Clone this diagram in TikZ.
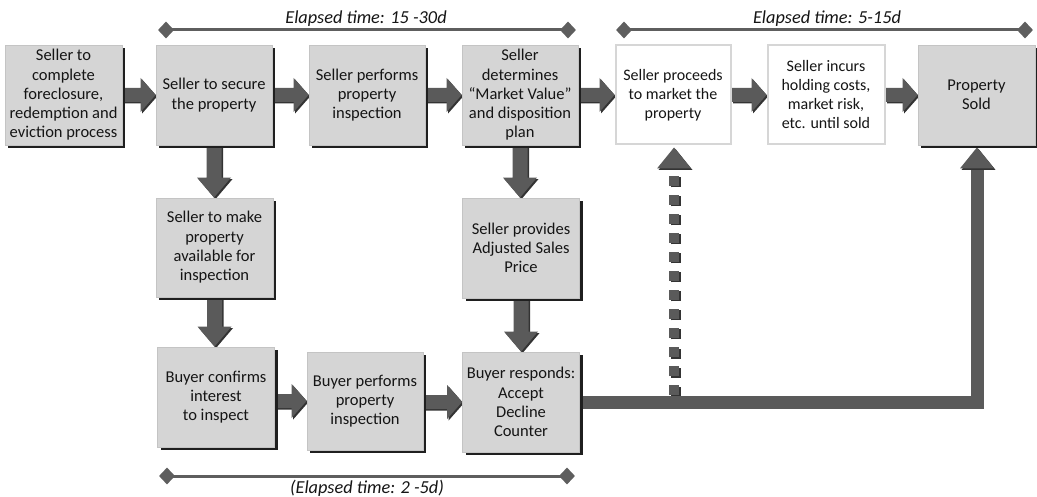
\documentclass[tikz,border=0pt]{standalone}
\usepackage{fontspec}
\setmainfont{Carlito}
\usetikzlibrary{shapes.geometric,shadows,calc}
\pgfdeclarelayer{background}
\pgfsetlayers{background,main}
\definecolor{boxgray}{HTML}{D5D5D5}
\definecolor{boxedge}{HTML}{C4C4C4}
\definecolor{wedge}{HTML}{D6D6D6}
\definecolor{arrowgray}{HTML}{5A5A5A}
\definecolor{arrowdark}{HTML}{333333}
\definecolor{linegray}{HTML}{5E5E5E}
\definecolor{txt}{HTML}{151515}
\newcommand{\arrdx}{0pt}
\newcommand{\arrdy}{0pt}
\newcommand{\HApath}[3]{%
  \fill[#3] let \p1=(#1), \p2=(#2) in
  ({\x1+\arrdx},{\y2+7pt+\arrdy}) -- ({\x2-15pt+\arrdx},{\y2+7pt+\arrdy}) --
  ({\x2-15pt+\arrdx},{\y2+17pt+\arrdy}) -- ({\x2+\arrdx},{\y2+\arrdy}) --
  ({\x2-15pt+\arrdx},{\y2-17pt+\arrdy}) -- ({\x2-15pt+\arrdx},{\y2-7pt+\arrdy}) --
  ({\x1+\arrdx},{\y2-7pt+\arrdy}) -- cycle;}
\newcommand{\VApath}[3]{%
  \fill[#3] let \p1=(#1), \p2=(#2) in
  ({\x1-7.5pt+\arrdx},{\y1+\arrdy}) -- ({\x1-7.5pt+\arrdx},{\y2+20pt+\arrdy}) --
  ({\x1-17pt+\arrdx},{\y2+20pt+\arrdy}) -- ({\x1+\arrdx},{\y2+\arrdy}) --
  ({\x1+17pt+\arrdx},{\y2+20pt+\arrdy}) -- ({\x1+7.5pt+\arrdx},{\y2+20pt+\arrdy}) --
  ({\x1+7.5pt+\arrdx},{\y1+\arrdy}) -- cycle;}
\newcommand{\HArrow}[2]{%
  \renewcommand{\arrdx}{1.5pt}\renewcommand{\arrdy}{-1.5pt}\HApath{#1}{#2}{arrowdark}%
  \renewcommand{\arrdx}{0pt}\renewcommand{\arrdy}{0pt}\HApath{#1}{#2}{arrowgray}}
\newcommand{\VArrow}[2]{%
  \renewcommand{\arrdx}{1.5pt}\renewcommand{\arrdy}{-1.5pt}\VApath{#1}{#2}{arrowdark}%
  \renewcommand{\arrdx}{0pt}\renewcommand{\arrdy}{0pt}\VApath{#1}{#2}{arrowgray}}
\tikzset{
  boxtext/.style={align=center, text=txt, inner sep=1pt,
    font=\fontsize{16.5}{19.3}\selectfont},
  gbox/.style={boxtext, draw=boxedge, line width=0.8pt, fill=boxgray,
    minimum width=117pt, minimum height=100pt,
    drop shadow={shadow xshift=3pt, shadow yshift=-3pt, opacity=1, fill=black!88}},
  wbox/.style={boxtext, draw=wedge, line width=2pt, fill=white,
    minimum width=115pt, minimum height=99pt, font=\fontsize{16}{19}\selectfont},
  dmark/.style={diamond, fill=linegray, minimum width=16pt, minimum height=17pt, inner sep=0pt},
  tline/.style={line width=3pt, draw=linegray},
  ttext/.style={font=\fontsize{18.3}{21}\selectfont\itshape, text=txt, anchor=base},
  bigline/.style={line width=13pt, draw=arrowgray, line join=miter},
  dotline/.style={line width=10pt, dash pattern=on 10pt off 9pt},
}
\begin{document}
\begin{tikzpicture}[x=1pt, y=-1pt]
\useasboundingbox (0,0) rectangle (1037,497);
\begin{pgfonlayer}{background}
\fill[white] (0,0) rectangle (1037,497);
\end{pgfonlayer}

% row 1
\node[gbox, minimum width=117pt] (b1) at (63.5,95) {Seller to\\complete\\foreclosure,\\redemption and\\eviction process};
\node[gbox, minimum width=116pt] (b2) at (214,95) {Seller to secure\\the property};
\node[gbox, minimum width=116pt] (b3) at (367,95) {Seller performs\\property\\inspection};
\node[gbox, minimum width=116pt] (b4) at (520,95) {Seller\\determines\\“Market Value”\\and disposition\\plan};
\node[wbox, minimum width=115pt] (b5) at (673,95) {Seller proceeds\\to market the\\property};
\node[wbox, minimum width=117pt] (b6) at (826,95) {Seller incurs\\holding costs,\\market risk,\\etc. until sold};
\node[gbox, minimum width=117pt] (b7) at (976.5,95) {Property\\Sold};

% row 2
\node[gbox, minimum height=99pt] (b8) at (214.5,247.5) {Seller to make\\property\\available for\\inspection};
\node[gbox] (b9) at (521,248) {Seller provides\\Adjusted Sales\\Price};

% row 3
\node[gbox] (b10) at (216,397) {Buyer confirms\\interest\\to inspect};
\node[gbox, minimum width=116pt, minimum height=98pt] (b11) at (365,401) {Buyer performs\\property\\inspection};
\node[gbox] (b12) at (521,402) {Buyer responds:\\Accept\\Decline\\Counter};

% timelines
\node[dmark] (tl1) at (166,30) {};
\node[dmark] (tl2) at (568,30) {};
\node[dmark] (tr1) at (624,30) {};
\node[dmark] (tr2) at (1025,30) {};
\node[dmark] (bl1) at (167,476) {};
\node[dmark] (bl2) at (567,476) {};
\node[ttext] (tlt) at (366,24) {Elapsed time: 15 -30d};
\node[ttext] (trt) at (827,24) {Elapsed time: 5-15d};
\node[ttext] (blt) at (367,493) {(Elapsed time: 2 -5d)};

\coordinate (dotb) at (674,395);

\begin{pgfonlayer}{background}
\draw[tline] (tl1.center) -- (tl2.center);
\draw[tline] (tr1.center) -- (tr2.center);
\draw[tline] (bl1.center) -- (bl2.center);

\HArrow{b1.east}{b2.west}
\HArrow{b2.east}{b3.west}
\HArrow{b3.east}{b4.west}
\HArrow{b4.east}{b5.west}
\HArrow{b5.east}{b6.west}
\HArrow{b6.east}{b7.west}
\HArrow{b10.east}{b11.west}
\HArrow{b11.east}{b12.west}
\VArrow{b2.south}{b8.north}
\VArrow{b8.south}{b10.north}
\VArrow{b4.south}{b9.north}
\VArrow{b9.south}{b12.north}

% dotted arrow
\draw[dotline, draw=arrowdark] ($(dotb)+(1.5,1.5)$) -- ($(b5.south)+(2.5,26.5)$);
\draw[dotline, draw=arrowgray] (dotb) -- ($(b5.south)+(1,25)$);
\fill[arrowdark] ($(b5.south)+(2.5,3.5)$) -- ++(17,21) -- ++(-34,0) -- cycle;
\fill[arrowgray] ($(b5.south)+(1,2)$) -- ++(17,21) -- ++(-34,0) -- cycle;

% big connector
\draw[bigline] (b12.east) -| ($(b7.south)+(0.5,21)$);
\fill[arrowdark] ($(b7.south)+(2,3.5)$) -- ++(17,21) -- ++(-34,0) -- cycle;
\fill[arrowgray] ($(b7.south)+(0.5,2)$) -- ++(17,21) -- ++(-34,0) -- cycle;
\end{pgfonlayer}
\end{tikzpicture}
\end{document}
